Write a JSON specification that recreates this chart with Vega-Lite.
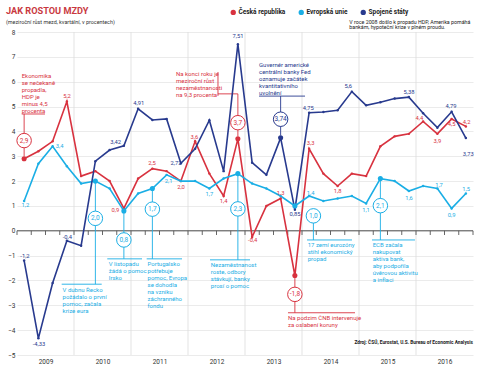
{
  "$schema": "https://vega.github.io/schema/vega-lite/v6.json",
  "width": 456,
  "height": 323,
  "autosize": "none",
  "padding": {"left": 17, "top": 32, "right": 7, "bottom": 14},
  "background": "white",
  "config": {
    "font": "Liberation Sans Narrow, Roboto, sans-serif",
    "view": {"stroke": null},
    "text": {"font": "Liberation Sans Narrow, Roboto, sans-serif"}
  },
  "title": {
    "text": "JAK ROSTOU MZDY",
    "subtitle": "(meziroční růst mezd, kvartální, v procentech)",
    "anchor": "start",
    "frame": "group",
    "dx": -11,
    "offset": -16,
    "fontSize": 9.2,
    "fontWeight": "bold",
    "color": "#c9393f",
    "subtitleFontSize": 5.4,
    "subtitleColor": "#333333",
    "subtitlePadding": 3
  },
  "resolve": {"axis": {"x": "independent", "y": "independent"}},
  "datasets": {
    "series": [
      {"t": 2009.125, "Česká republika": 2.9, "Evropská unie": 1.2, "Spojené státy": -1.2},
      {"t": 2009.375, "Česká republika": 3.2, "Evropská unie": 2.7, "Spojené státy": -4.33},
      {"t": 2009.625, "Česká republika": 3.6, "Evropská unie": 3.4, "Spojené státy": -2.1},
      {"t": 2009.875, "Česká republika": 5.2, "Evropská unie": 2.6, "Spojené státy": -0.4},
      {"t": 2010.125, "Česká republika": 2.2, "Evropská unie": 1.9, "Spojené státy": -0.6},
      {"t": 2010.375, "Česká republika": 2.4, "Evropská unie": 2.0, "Spojené státy": 2.8},
      {"t": 2010.625, "Česká republika": 2.0, "Evropská unie": 1.7, "Spojené státy": 3.25},
      {"t": 2010.875, "Česká republika": 0.9, "Evropská unie": 0.8, "Spojené státy": 3.42},
      {"t": 2011.125, "Česká republika": 2.1, "Evropská unie": 1.5, "Spojené státy": 4.91},
      {"t": 2011.375, "Česká republika": 2.5, "Evropská unie": 1.7, "Spojené státy": 4.46},
      {"t": 2011.625, "Česká republika": 2.4, "Evropská unie": 2.25, "Spojené státy": 4.5},
      {"t": 2011.875, "Česká republika": 2.0, "Evropská unie": 2.0, "Spojené státy": 2.72},
      {"t": 2012.125, "Česká republika": 3.6, "Evropská unie": 2.0, "Spojené státy": 3.3},
      {"t": 2012.375, "Česká republika": 2.3, "Evropská unie": 1.7, "Spojené státy": 4.45},
      {"t": 2012.625, "Česká republika": 1.4, "Evropská unie": 2.1, "Spojené státy": 2.4},
      {"t": 2012.875, "Česká republika": 3.7, "Evropská unie": 2.3, "Spojené státy": 7.51},
      {"t": 2013.125, "Česká republika": -0.25, "Evropská unie": 1.9, "Spojené státy": 2.74},
      {"t": 2013.375, "Česká republika": 1.0, "Evropská unie": 1.7, "Spojené státy": 2.25},
      {"t": 2013.625, "Česká republika": 1.3, "Evropská unie": 1.4, "Spojené státy": 3.74},
      {"t": 2013.875, "Česká republika": -1.8, "Evropská unie": 1.0, "Spojené státy": 0.85},
      {"t": 2014.125, "Česká republika": 3.3, "Evropská unie": 1.4, "Spojené státy": 4.75},
      {"t": 2014.375, "Česká republika": 2.3, "Evropská unie": 1.2, "Spojené státy": 4.78},
      {"t": 2014.625, "Česká republika": 1.8, "Evropská unie": 1.3, "Spojené státy": 4.85},
      {"t": 2014.875, "Česká republika": 2.3, "Evropská unie": 1.4, "Spojené státy": 5.6},
      {"t": 2015.125, "Česká republika": 2.2, "Evropská unie": 1.1, "Spojené státy": 5.05},
      {"t": 2015.375, "Česká republika": 3.4, "Evropská unie": 2.1, "Spojené státy": 5.17},
      {"t": 2015.625, "Česká republika": 3.8, "Evropská unie": 2.0, "Spojené státy": 5.32},
      {"t": 2015.875, "Česká republika": 3.9, "Evropská unie": 1.6, "Spojené státy": 5.38},
      {"t": 2016.125, "Česká republika": 4.4, "Evropská unie": 1.8, "Spojené státy": 4.73},
      {"t": 2016.375, "Česká republika": 3.9, "Evropská unie": 1.7, "Spojené státy": 4.15},
      {"t": 2016.625, "Česká republika": 4.5, "Evropská unie": 0.9, "Spojené státy": 4.79},
      {"t": 2016.875, "Česká republika": 4.2, "Evropská unie": 1.5, "Spojené státy": 3.73}
    ],
    "highlights": [
      {"s": "Česká republika", "t": 2009.125, "v": 2.9},
      {"s": "Česká republika", "t": 2012.875, "v": 3.7},
      {"s": "Česká republika", "t": 2013.875, "v": -1.8},
      {"s": "Spojené státy", "t": 2013.625, "v": 3.74},
      {"s": "Evropská unie", "t": 2010.375, "v": 2.0},
      {"s": "Evropská unie", "t": 2010.875, "v": 0.8},
      {"s": "Evropská unie", "t": 2011.375, "v": 1.7},
      {"s": "Evropská unie", "t": 2012.875, "v": 2.3},
      {"s": "Evropská unie", "t": 2013.875, "v": 1.0},
      {"s": "Evropská unie", "t": 2015.375, "v": 2.1}
    ],
    "circles": [
      {"s": "Česká republika", "t": 2009.125, "v": 3.63, "txt": "2,9"},
      {"s": "Česká republika", "t": 2012.875, "v": 4.35, "txt": "3,7"},
      {"s": "Spojené státy", "t": 2013.625, "v": 4.49, "txt": "3,74"},
      {"s": "Česká republika", "t": 2013.875, "v": -2.56, "txt": "-1,8"},
      {"s": "Evropská unie", "t": 2010.375, "v": 0.5, "txt": "2,0"},
      {"s": "Evropská unie", "t": 2010.875, "v": -0.37, "txt": "0,8"},
      {"s": "Evropská unie", "t": 2011.375, "v": 0.87, "txt": "1,7"},
      {"s": "Evropská unie", "t": 2012.875, "v": 0.88, "txt": "2,3"},
      {"s": "Evropská unie", "t": 2014.2, "v": 0.6, "txt": "1,0"},
      {"s": "Evropská unie", "t": 2015.375, "v": 1.01, "txt": "2,1"}
    ],
    "connectors": [
      {"s": "Česká republika", "t": 2009.082, "v": 4.7, "t2": 2009.491, "v2": 4.7},
      {"s": "Česká republika", "t": 2009.125, "v": 4.7, "t2": 2009.125, "v2": 3.0},
      {"s": "Česká republika", "t": 2012.526, "v": 6.39, "t2": 2012.526, "v2": 5.43},
      {"s": "Česká republika", "t": 2012.526, "v": 5.51, "t2": 2012.875, "v2": 5.51},
      {"s": "Česká republika", "t": 2012.875, "v": 5.51, "t2": 2012.875, "v2": 3.8},
      {"s": "Spojené státy", "t": 2013.246, "v": 5.42, "t2": 2014.053, "v2": 5.42},
      {"s": "Spojené státy", "t": 2013.625, "v": 5.42, "t2": 2013.625, "v2": 3.85},
      {"s": "Česká republika", "t": 2013.875, "v": -1.9, "t2": 2013.875, "v2": -3.3},
      {"s": "Česká republika", "t": 2013.754, "v": -3.3, "t2": 2014.93, "v2": -3.3},
      {"s": "Evropská unie", "t": 2010.375, "v": 2.0, "t2": 2010.375, "v2": -2.15},
      {"s": "Evropská unie", "t": 2009.784, "v": -2.15, "t2": 2010.486, "v2": -2.15},
      {"s": "Evropská unie", "t": 2010.875, "v": 0.8, "t2": 2010.875, "v2": -1.13},
      {"s": "Evropská unie", "t": 2010.584, "v": -1.13, "t2": 2011.193, "v2": -1.13},
      {"s": "Evropská unie", "t": 2011.375, "v": 1.7, "t2": 2011.375, "v2": -1.13},
      {"s": "Evropská unie", "t": 2011.275, "v": -1.13, "t2": 2011.895, "v2": -1.13},
      {"s": "Evropská unie", "t": 2012.875, "v": 2.3, "t2": 2012.875, "v2": -1.17},
      {"s": "Evropská unie", "t": 2012.386, "v": -1.17, "t2": 2013.088, "v2": -1.17},
      {"s": "Evropská unie", "t": 2014.2, "v": 0.6, "t2": 2014.2, "v2": -0.37},
      {"s": "Evropská unie", "t": 2014.088, "v": -0.37, "t2": 2014.877, "v2": -0.37},
      {"s": "Evropská unie", "t": 2015.375, "v": 2.1, "t2": 2015.375, "v2": -0.37},
      {"s": "Evropská unie", "t": 2015.228, "v": -0.37, "t2": 2015.982, "v2": -0.37}
    ],
    "valueLabels": [
      {"s": "Česká republika", "t": 2009.877, "v": 5.42, "txt": "5,2"},
      {"s": "Česká republika", "t": 2010.725, "v": 0.84, "txt": "0,9"},
      {"s": "Česká republika", "t": 2011.368, "v": 2.72, "txt": "2,5"},
      {"s": "Česká republika", "t": 2011.877, "v": 1.78, "txt": "2,0"},
      {"s": "Česká republika", "t": 2012.111, "v": 3.76, "txt": "3,6"},
      {"s": "Česká republika", "t": 2012.626, "v": 1.21, "txt": "1,4"},
      {"s": "Česká republika", "t": 2013.135, "v": -0.37, "txt": "-0,4"},
      {"s": "Česká republika", "t": 2013.626, "v": 1.53, "txt": "1,3"},
      {"s": "Česká republika", "t": 2014.152, "v": 3.52, "txt": "3,3"},
      {"s": "Česká republika", "t": 2014.626, "v": 1.6, "txt": "1,8"},
      {"s": "Česká republika", "t": 2016.058, "v": 4.55, "txt": "4,4"},
      {"s": "Česká republika", "t": 2016.374, "v": 3.61, "txt": "3,9"},
      {"s": "Česká republika", "t": 2016.626, "v": 4.28, "txt": "4,5"},
      {"s": "Česká republika", "t": 2016.889, "v": 4.39, "txt": "4,2"},
      {"s": "Spojené státy", "t": 2009.14, "v": -1.01, "txt": "-1,2"},
      {"s": "Spojené státy", "t": 2009.386, "v": -4.57, "txt": "-4,33"},
      {"s": "Spojené státy", "t": 2009.883, "v": -0.24, "txt": "-0,4"},
      {"s": "Spojené státy", "t": 2010.731, "v": 3.57, "txt": "3,42"},
      {"s": "Spojené státy", "t": 2011.135, "v": 5.13, "txt": "4,91"},
      {"s": "Spojené státy", "t": 2011.79, "v": 2.73, "txt": "2,72"},
      {"s": "Spojené státy", "t": 2012.877, "v": 7.84, "txt": "7,51"},
      {"s": "Spojené státy", "t": 2013.877, "v": 0.68, "txt": "0,85"},
      {"s": "Spojené státy", "t": 2014.111, "v": 4.95, "txt": "4,75"},
      {"s": "Spojené státy", "t": 2014.812, "v": 5.84, "txt": "5,6"},
      {"s": "Spojené státy", "t": 2015.877, "v": 5.57, "txt": "5,38"},
      {"s": "Spojené státy", "t": 2016.614, "v": 5.02, "txt": "4,79"},
      {"s": "Spojené státy", "t": 2016.918, "v": 3.09, "txt": "3,73"},
      {"s": "Evropská unie", "t": 2009.146, "v": 1.03, "txt": "1,2"},
      {"s": "Evropská unie", "t": 2009.749, "v": 3.42, "txt": "3,4"},
      {"s": "Evropská unie", "t": 2011.66, "v": 2.02, "txt": "2,1"},
      {"s": "Evropská unie", "t": 2012.374, "v": 1.48, "txt": "1,7"},
      {"s": "Evropská unie", "t": 2014.152, "v": 1.53, "txt": "1,4"},
      {"s": "Evropská unie", "t": 2015.123, "v": 0.84, "txt": "1,1"},
      {"s": "Evropská unie", "t": 2015.877, "v": 1.33, "txt": "1,6"},
      {"s": "Evropská unie", "t": 2016.404, "v": 1.86, "txt": "1,7"},
      {"s": "Evropská unie", "t": 2016.626, "v": 0.62, "txt": "0,9"},
      {"s": "Evropská unie", "t": 2016.88, "v": 1.68, "txt": "1,5"}
    ],
    "notes": [
      {"s": "Česká republika", "t": 2009.082, "v": 6.35, "txt": ["Ekonomika", "se nečekaně", "propadla,", "HDP je", "minus 4,5", "procenta"]},
      {"s": "Česká republika", "t": 2011.79, "v": 6.43, "txt": ["Na konci roku je", "meziroční růst", "nezaměstnanosti", "na 9,3 procenta"]},
      {"s": "Spojené státy", "t": 2013.246, "v": 6.79, "txt": ["Guvernér americké", "centrální banky Fed", "oznamuje začátek", "kvantitativního", "uvolnění"]},
      {"s": "Česká republika", "t": 2013.754, "v": -3.4, "txt": ["Na podzim ČNB intervenuje", "za oslabení koruny"]},
      {"s": "Evropská unie", "t": 2009.8, "v": -2.25, "txt": ["V dubnu Řecko", "požádalo o první", "pomoc, začala", "krize eura"]},
      {"s": "Evropská unie", "t": 2010.61, "v": -1.23, "txt": ["V listopadu", "žádá o pomoc", "Irsko"]},
      {"s": "Evropská unie", "t": 2011.29, "v": -1.23, "txt": ["Portugalsko", "potřebuje", "pomoc, Evropa", "se dohodla", "na vzniku", "záchranného", "fondu"]},
      {"s": "Evropská unie", "t": 2012.4, "v": -1.27, "txt": ["Nezaměstnanost", "roste, odbory", "stávkují, banky", "prosí o pomoc"]},
      {"s": "Evropská unie", "t": 2014.1, "v": -0.47, "txt": ["17 zemí eurozóny", "stihl ekonomický", "propad"]},
      {"s": "Evropská unie", "t": 2015.24, "v": -0.47, "txt": ["ECB začala", "nakupovat", "aktiva bank,", "aby podpořila", "úvěrovou aktivitu", "a inflaci"]}
    ]
  },
  "layer": [
    {
      "data": {"values": [{"yr": 2010}, {"yr": 2011}, {"yr": 2012}, {"yr": 2013}, {"yr": 2014}, {"yr": 2015}, {"yr": 2016}]},
      "mark": {"type": "rule", "color": "#dcdcdc", "strokeWidth": 0.8},
      "encoding": {
        "x": {
          "field": "yr", "type": "quantitative",
          "scale": {"domain": [2009, 2017], "nice": false, "zero": false},
          "axis": {
            "values": [2009.5, 2010.5, 2011.5, 2012.5, 2013.5, 2014.5, 2015.5, 2016.5],
            "labelExpr": "floor(datum.value)",
            "grid": false, "ticks": false, "domain": false, "title": null,
            "labelFontSize": 6.5, "labelColor": "#333333", "labelPadding": 3, "labelFlush": false
          }
        }
      }
    },
    {
      "data": {"values": [{"z": 0}]},
      "mark": {"type": "rule", "color": "#555555", "strokeWidth": 1.2},
      "encoding": {"y": {"field": "z", "type": "quantitative", "axis": null}}
    },
    {
      "data": {"values": [
        {"q": 2009}, {"q": 2009.25}, {"q": 2009.5}, {"q": 2009.75},
        {"q": 2010}, {"q": 2010.25}, {"q": 2010.5}, {"q": 2010.75},
        {"q": 2011}, {"q": 2011.25}, {"q": 2011.5}, {"q": 2011.75},
        {"q": 2012}, {"q": 2012.25}, {"q": 2012.5}, {"q": 2012.75},
        {"q": 2013}, {"q": 2013.25}, {"q": 2013.5}, {"q": 2013.75},
        {"q": 2014}, {"q": 2014.25}, {"q": 2014.5}, {"q": 2014.75},
        {"q": 2015}, {"q": 2015.25}, {"q": 2015.5}, {"q": 2015.75},
        {"q": 2016}, {"q": 2016.25}, {"q": 2016.5}, {"q": 2016.75}, {"q": 2017}
      ]},
      "mark": {"type": "rule", "color": "#555555", "strokeWidth": 0.9},
      "encoding": {
        "x": {"field": "q", "type": "quantitative", "axis": null},
        "y": {"datum": 0, "axis": null},
        "y2": {"datum": -0.17}
      }
    },
    {
      "data": {"name": "connectors"},
      "mark": {"type": "rule", "strokeWidth": 0.9},
      "encoding": {
        "x": {"field": "t", "type": "quantitative", "axis": null},
        "x2": {"field": "t2"},
        "y": {"field": "v", "type": "quantitative", "axis": null},
        "y2": {"field": "v2"},
        "color": {"field": "s", "type": "nominal"}
      }
    },
    {
      "data": {"name": "series"},
      "transform": [{"fold": ["Česká republika", "Evropská unie", "Spojené státy"], "as": ["s", "v"]}],
      "mark": {"type": "line", "strokeWidth": 1.6},
      "encoding": {
        "x": {"field": "t", "type": "quantitative", "axis": null},
        "y": {
          "field": "v", "type": "quantitative",
          "scale": {"domain": [-5, 8], "nice": false, "zero": false},
          "axis": {
            "values": [-5, -4, -3, -2, -1, 0, 1, 2, 3, 4, 5, 6, 7, 8],
            "grid": true, "gridColor": "#e6e6e6", "gridWidth": 0.8,
            "ticks": false, "domain": false, "title": null, "labelOverlap": false,
            "labelFontSize": 6.5, "labelColor": "#333333", "labelPadding": 2
          }
        },
        "color": {
          "field": "s", "type": "nominal",
          "scale": {"domain": ["Česká republika", "Evropská unie", "Spojené státy"], "range": ["#d8323f", "#1aaee5", "#283a8e"]},
          "legend": {
            "orient": "none", "legendX": 213, "legendY": -23, "direction": "horizontal",
            "title": null, "labelFontSize": 6.5, "labelFontWeight": "bold", "labelColor": "#222222",
            "symbolType": "circle", "symbolSize": 28, "symbolStrokeWidth": 0, "columnPadding": 12, "labelOffset": 2
          }
        }
      }
    },
    {
      "data": {"name": "series"},
      "transform": [{"fold": ["Česká republika", "Evropská unie", "Spojené státy"], "as": ["s", "v"]}],
      "mark": {"type": "circle", "size": 6, "opacity": 1},
      "encoding": {
        "x": {"field": "t", "type": "quantitative", "axis": null},
        "y": {"field": "v", "type": "quantitative", "axis": null},
        "color": {"field": "s", "type": "nominal"}
      }
    },
    {
      "data": {"name": "highlights"},
      "mark": {"type": "circle", "size": 26, "opacity": 1},
      "encoding": {
        "x": {"field": "t", "type": "quantitative", "axis": null},
        "y": {"field": "v", "type": "quantitative", "axis": null},
        "color": {"field": "s", "type": "nominal"}
      }
    },
    {
      "data": {"name": "circles"},
      "mark": {"type": "point", "shape": "circle", "size": 210, "filled": false, "fill": "white", "fillOpacity": 1, "strokeWidth": 1, "opacity": 1},
      "encoding": {
        "x": {"field": "t", "type": "quantitative", "axis": null},
        "y": {"field": "v", "type": "quantitative", "axis": null},
        "color": {"field": "s", "type": "nominal"}
      }
    },
    {
      "data": {"name": "circles"},
      "mark": {"type": "text", "fontSize": 6.5, "baseline": "middle", "align": "center"},
      "encoding": {
        "x": {"field": "t", "type": "quantitative", "axis": null},
        "y": {"field": "v", "type": "quantitative", "axis": null},
        "text": {"field": "txt"},
        "color": {"field": "s", "type": "nominal"}
      }
    },
    {
      "data": {"name": "valueLabels"},
      "mark": {"type": "text", "fontSize": 5.8, "baseline": "middle", "align": "center"},
      "encoding": {
        "x": {"field": "t", "type": "quantitative", "axis": null},
        "y": {"field": "v", "type": "quantitative", "axis": null},
        "text": {"field": "txt"},
        "color": {"field": "s", "type": "nominal"}
      }
    },
    {
      "data": {"name": "notes"},
      "mark": {"type": "text", "fontSize": 6, "baseline": "top", "align": "left", "lineHeight": 7},
      "encoding": {
        "x": {"field": "t", "type": "quantitative", "axis": null},
        "y": {"field": "v", "type": "quantitative", "axis": null},
        "text": {"field": "txt"},
        "color": {"field": "s", "type": "nominal"}
      }
    },
    {
      "data": {"values": [{"t": 2014.83, "v": 8.42, "txt": ["V roce 2008 došlo k propadu HDP, Amerika pomáhá", "bankám, hypoteční krize v plném proudu."]}]},
      "mark": {"type": "text", "fontSize": 5.3, "baseline": "middle", "align": "left", "lineHeight": 5.8, "color": "#222222"},
      "encoding": {
        "x": {"field": "t", "type": "quantitative", "axis": null},
        "y": {"field": "v", "type": "quantitative", "axis": null},
        "text": {"field": "txt"}
      }
    },
    {
      "data": {"values": [{"t": 2017, "v": -4.53, "txt": "Zdroj: ČSÚ, Eurostat, U.S. Bureau of Economic Analysis"}]},
      "mark": {"type": "text", "fontSize": 4.8, "fontWeight": "bold", "baseline": "middle", "align": "right", "color": "#222222"},
      "encoding": {
        "x": {"field": "t", "type": "quantitative", "axis": null},
        "y": {"field": "v", "type": "quantitative", "axis": null},
        "text": {"field": "txt"}
      }
    }
  ]
}
